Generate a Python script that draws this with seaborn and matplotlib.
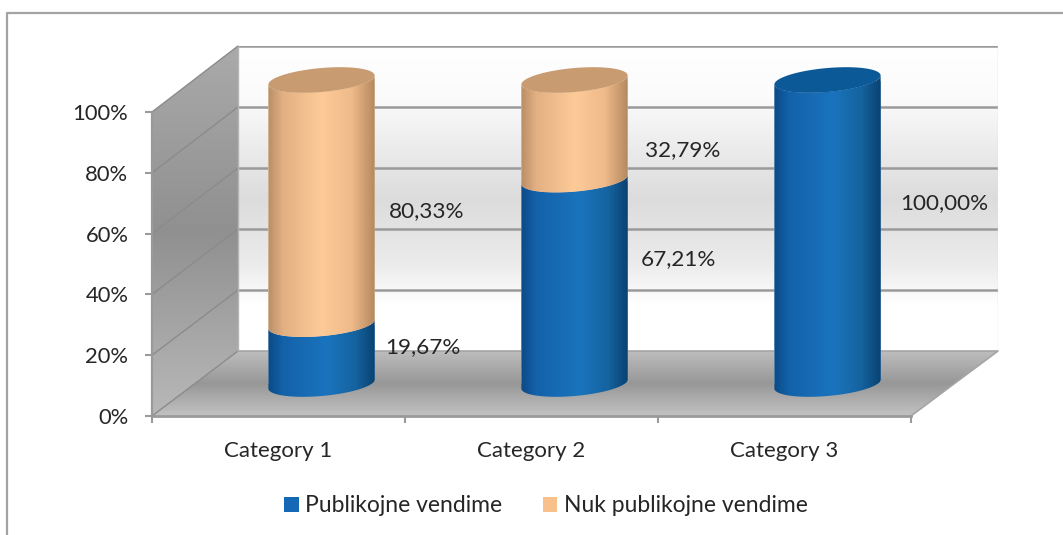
import numpy as np
import matplotlib
matplotlib.use("Agg")
import matplotlib.pyplot as plt
import seaborn as sns
from matplotlib.colors import LinearSegmentedColormap
from matplotlib.lines import Line2D
from matplotlib.patches import Patch, Polygon

categories = ["Category 1", "Category 2", "Category 3"]
publikojne = [19.67, 67.21, 100.00]
nuk_publikojne = [80.33, 32.79, 0.00]
series_names = ["Publikojne vendime", "Nuk publikojne vendime"]
y_ticks = [0, 20, 40, 60, 80, 100]

W, H = 1063, 535
sns.set_theme(style="white")
plt.rcParams["font.family"] = ["Lato", "DejaVu Sans"]
TXT = "#262626"
GRID = "#9a9a9a"

fig = plt.figure(figsize=(W / 100, H / 100), dpi=100, facecolor="white")


def px_axes(x0, y_top, x1, y_bot, z):
    a = fig.add_axes([x0 / W, 1 - y_bot / H, (x1 - x0) / W, (y_bot - y_top) / H], zorder=z)
    a.patch.set_alpha(0)
    return a


def vgrad(a, colors, extent):
    # vertical gradient, first colour is on top
    cm = LinearSegmentedColormap.from_list("g", colors)
    return a.imshow(np.linspace(0, 1, 256).reshape(-1, 1), cmap=cm, aspect="auto", extent=extent, origin="upper", vmin=0, vmax=1)


# back wall
ax_back = px_axes(238, 46, 998, 351, 1)
ax_back.set_xlim(-0.5, 2.5)
ax_back.set_ylim(0, 100)
vgrad(ax_back, [(0, "#ffffff"), (0.17, "#fbfbfb"), (0.5, "#dcdcdc"), (0.72, "#ececec"), (0.85, "#ffffff"), (1, "#ffffff")], (-0.5, 2.5, 0, 100))
ax_back.hlines(y_ticks[1:], -0.5, 2.5, color=GRID, lw=1.8)
ax_back.axvline(2.5, color="#dddddd", lw=1)
ax_back.axis("off")

# side wall and floor, pixel coordinates
bg = px_axes(0, 0, W, H, 2)
bg.set_xlim(0, W)
bg.set_ylim(H, 0)
side = Polygon([(152, 112), (238, 46), (238, 351), (152, 416)], transform=bg.transData, fc="none", ec="none")
im = vgrad(bg, [(0, "#a9aaa9"), (0.5, "#909090"), (1, "#b8b8b8")], (152, 238, 416, 46))
im.set_clip_path(side)
floor = Polygon([(152, 416), (238, 351), (998, 351), (911, 416)], transform=bg.transData, fc="none", ec="none")
im = vgrad(bg, [(0, "#bdbdbd"), (0.5, "#979797"), (0.72, "#ababab"), (1, "#c2c2c2")], (152, 998, 416, 351))
im.set_clip_path(floor)
for t in y_ticks:
    f = 416 - t * 3.04
    b = 351 - t * 3.05
    bg.plot([152, 238], [f, b], color="#8b8b8b", lw=1.0)
bg.plot([238, 238], [46, 351], color="#b5b5b5", lw=1)
bg.plot([911, 998, 238], [416, 351, 351], color="#a5a5a5", lw=1.2)
bg.set_xlim(0, W)
bg.set_ylim(H, 0)
bg.axis("off")

# cylinders
ax_bars = px_axes(195, 80, 954, 384, 4)
blue = "#1569b4"
orange = "#f8c18c"
sns.barplot(x=categories, y=publikojne, color=blue, saturation=1, width=0.42, ax=ax_bars)
n_blue = len(ax_bars.patches)
sns.barplot(x=categories, y=nuk_publikojne, bottom=publikojne, color=orange, saturation=1, width=0.42, ax=ax_bars)
ax_bars.set_xlim(-0.5, 2.5)
ax_bars.set_ylim(0, 100)
ax_bars.axis("off")

blue_cm = LinearSegmentedColormap.from_list("b", [(0, "#0c4a86"), (0.14, "#1362aa"), (0.55, "#1a74bd"), (0.82, "#15639f"), (1, "#0a4272")])
orange_cm = LinearSegmentedColormap.from_list("o", [(0, "#b98f66"), (0.14, "#e3b083"), (0.5, "#fdca98"), (0.78, "#f0bb8a"), (1, "#b58a60")])

RX = 12 / 3.04   # ellipse half height, in y units
TILT = 4.5 / 3.04


def arc(cx, half, level, t):
    return np.column_stack([cx + half * np.cos(t), level + TILT * np.cos(t) + RX * np.sin(t)])


for i, bar in enumerate(ax_bars.patches):
    if bar.get_height() <= 0:
        continue
    x, w = bar.get_x(), bar.get_width()
    cx, half = x + w / 2, w / 2
    y0, y1 = bar.get_y(), bar.get_y() + bar.get_height()
    low = arc(cx, half, y0, np.linspace(np.pi, 2 * np.pi, 60))
    up = arc(cx, half, y1, np.linspace(2 * np.pi, np.pi, 60))
    body = Polygon(np.vstack([low, up]), transform=ax_bars.transData, fc="none", ec="none")
    bar.set_clip_path(body)
    cm = blue_cm if i < n_blue else orange_cm
    g = ax_bars.imshow(np.linspace(0, 1, 200).reshape(1, -1), cmap=cm, aspect="auto", vmin=0, vmax=1,
                       extent=(x, x + w, y0 - 12, y1 + 12), zorder=3 + 0.01 * i)
    # the round ends stick out of the axes box
    g.set_clip_box(fig.bbox)
    g.set_clip_path(body)
    if y1 >= 99.9:
        top = arc(cx, half, y1, np.linspace(0, 2 * np.pi, 100))
        cap = "#0c5998" if i < n_blue else "#c89b71"
        ax_bars.add_patch(Polygon(top, fc=cap, ec="none", zorder=4, clip_on=False))
ax_bars.set_xlim(-0.5, 2.5)
ax_bars.set_ylim(0, 100)

# front axis with the ticks
ax = px_axes(152, 112, 911, 416, 5)
ax.set_xlim(-0.5, 2.5)
ax.set_ylim(0, 100)
ax.set_xticks(range(3))
ax.set_xticklabels(categories, fontsize=16, color=TXT)
ax.set_xticks([-0.5, 0.5, 1.5, 2.5], minor=True)
ax.tick_params(axis="x", which="major", length=0, pad=18)
ax.tick_params(axis="x", which="minor", length=5, width=1.5, color=GRID, bottom=True)
ax.set_yticks(y_ticks)
ax.set_yticklabels([f"{t}%" for t in y_ticks], fontsize=15.8, color=TXT)
ax.tick_params(axis="y", length=5, width=1.5, color=GRID, left=True, pad=12)
for s in ["top", "right"]:
    ax.spines[s].set_visible(False)
ax.spines["left"].set_color(GRID)
ax.spines["left"].set_linewidth(1.6)
ax.spines["bottom"].set_color(GRID)
ax.spines["bottom"].set_linewidth(2)

# data labels
label_px = [(423, 347), (678, 259), (944, 203), (427, 211), (683, 150)]
label_vals = publikojne + nuk_publikojne[:2]
for (lx, ly), v in zip(label_px, label_vals):
    fig.text(lx / W, 1 - ly / H, f"{v:.2f}%".replace(".", ","), ha="center", va="center",
             fontsize=16.2, color=TXT, zorder=10)

# outer frame of the chart, open at the bottom
fig.add_artist(Line2D([7 / W, 7 / W, 1], [0, 1 - 13 / H, 1 - 13 / H], color="#a3a3a3", lw=1.6))

handles = [Patch(fc=blue, ec="none"), Patch(fc=orange, ec="none")]
fig.legend(handles, series_names, loc="center", bbox_to_anchor=(546 / W, 1 - 506 / H), ncol=2, frameon=False,
           fontsize=16.5, labelcolor=TXT, handlelength=0.62, handleheight=0.62, handletextpad=0.3, columnspacing=1.75)

fig.savefig("out.png", dpi=100)
